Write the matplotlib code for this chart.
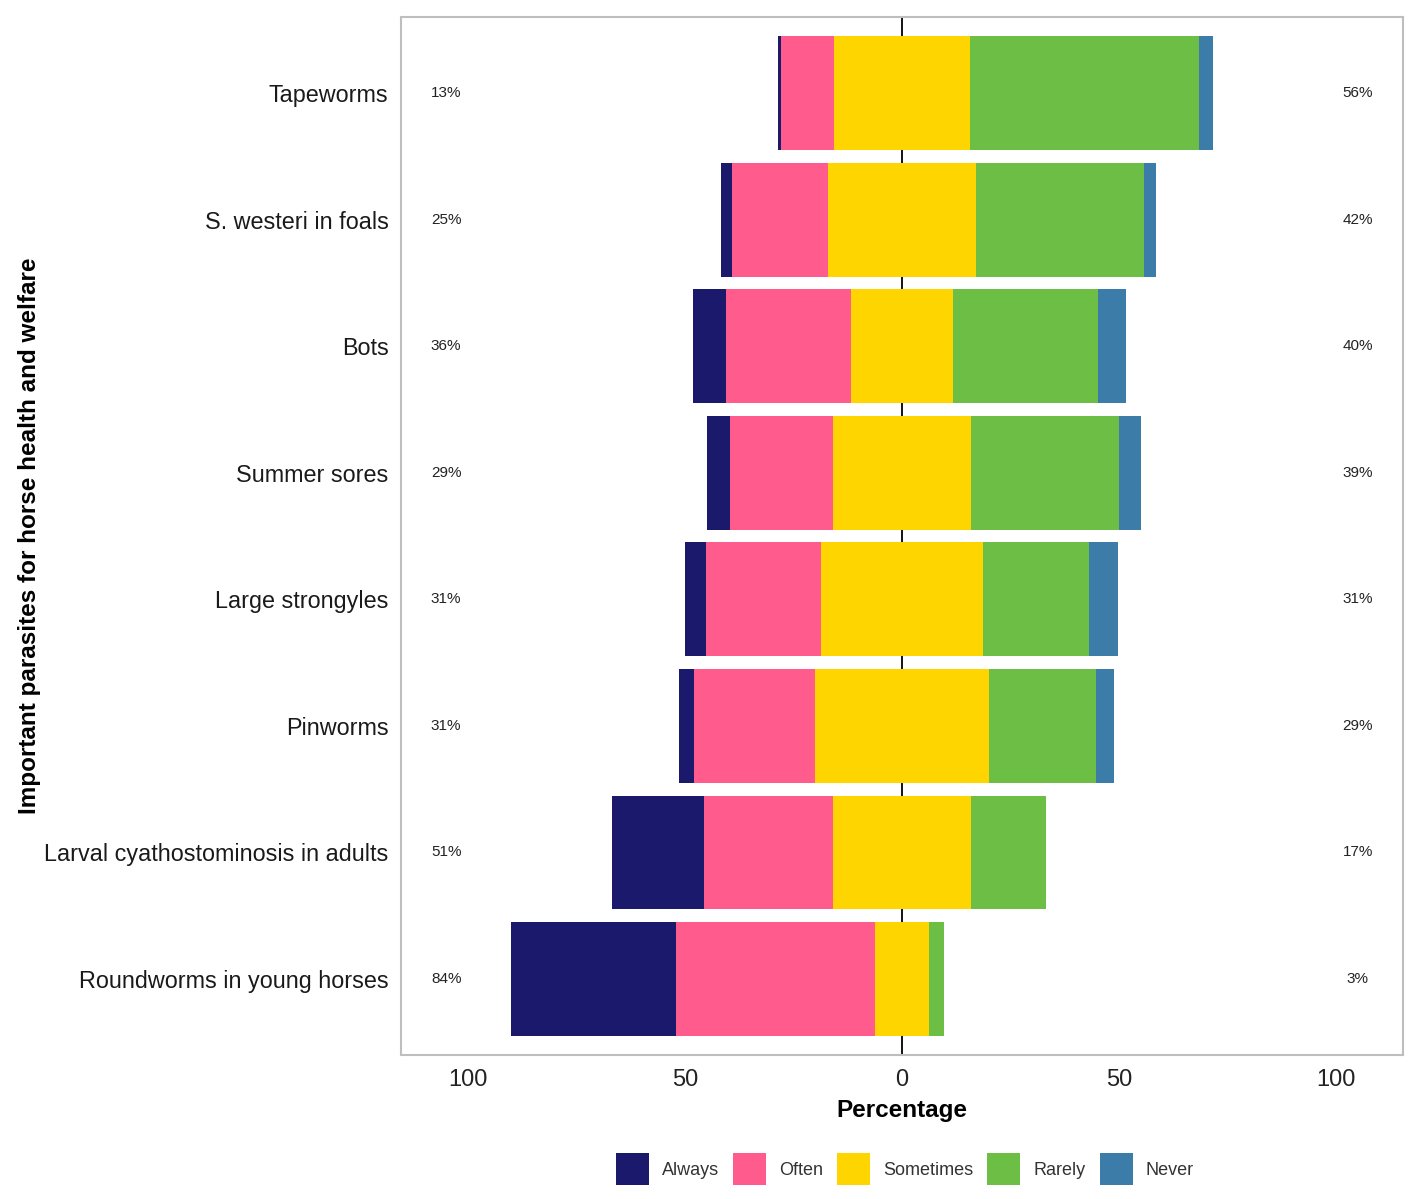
import matplotlib
matplotlib.use("Agg")
import matplotlib.pyplot as plt

plt.rcParams['font.family'] = ['Liberation Sans', 'DejaVu Sans']

# Parasites, listed top to bottom as in the chart
parasites = ["Tapeworms", "S. westeri in foals", "Bots", "Summer sores",
             "Large strongyles", "Pinworms", "Larval cyathostominosis in adults",
             "Roundworms in young horses"]

# Percent of respondents per answer
always = [0.6, 2.5, 7.8, 5.3, 4.8, 3.5, 21.2, 38.0]
often = [12.2, 22.3, 28.6, 23.7, 26.5, 27.9, 29.7, 45.7]
sometimes = [31.3, 33.9, 23.7, 32.0, 37.3, 39.9, 32.0, 12.5]
rarely = [52.7, 38.7, 33.2, 33.9, 24.4, 24.7, 17.1, 3.5]
never = [3.2, 2.8, 6.5, 5.1, 6.7, 4.1, 0.0, 0.0]

# Summary labels printed at both sides
low_pct = [13, 25, 36, 29, 31, 31, 51, 84]
high_pct = [56, 42, 40, 39, 31, 29, 17, 3]

answers = ["Always", "Often", "Sometimes", "Rarely", "Never"]
colors = ["#1B196B", "#FF5C8D", "#FFD500", "#6CBE45", "#3B7CA8"]

n = len(parasites)
ypos = [n - i for i in range(n)]

fig = plt.figure(figsize=(14.18, 11.99), dpi=100)
ax = fig.add_axes([0.2828, 0.1201, 0.7066, 0.8657])

# Zero line sits behind the bars
ax.axvline(0, color="black", lw=1.3, zorder=1)

# Neutral answer is split evenly around zero
half = [s / 2 for s in sometimes]
left_often = [-h - o for h, o in zip(half, often)]
left_always = [lo - a for lo, a in zip(left_often, always)]
right_rarely = half
right_never = [h + r for h, r in zip(half, rarely)]

h = 0.9
bars = []
bars.append(ax.barh(ypos, always, left=left_always, height=h, color=colors[0], label=answers[0], zorder=2))
bars.append(ax.barh(ypos, often, left=left_often, height=h, color=colors[1], label=answers[1], zorder=2))
bars.append(ax.barh(ypos, sometimes, left=[-v for v in half], height=h, color=colors[2], label=answers[2], zorder=2))
bars.append(ax.barh(ypos, rarely, left=right_rarely, height=h, color=colors[3], label=answers[3], zorder=2))
bars.append(ax.barh(ypos, never, left=right_never, height=h, color=colors[4], label=answers[4], zorder=2))

# Side percentages
for y, lo, hi in zip(ypos, low_pct, high_pct):
    ax.text(-105, y, f"{lo}%", ha="center", va="center", fontsize=11, color="#222222")
    ax.text(105, y, f"{hi}%", ha="center", va="center", fontsize=11, color="#222222")

ax.set_xlim(-115.4, 115.4)
ax.set_ylim(0.4, n + 0.6)

xt = [-100, -50, 0, 50, 100]
ax.set_xticks(xt)
ax.set_xticklabels([str(abs(v)) for v in xt], fontsize=17, color="#222222")
ax.set_yticks(ypos)
ax.set_yticklabels(parasites, fontsize=16.8, color="#1A1A1A")
ax.tick_params(axis="x", length=0, pad=10)
ax.tick_params(axis="y", length=0, pad=9)

for s in ax.spines.values():
    s.set_color("#BEBEBE")
    s.set_linewidth(1.5)

ax.set_xlabel("Percentage", fontsize=17.5, fontweight="bold", labelpad=6)
fig.text(0.021, 0.553, "Important parasites for horse health and welfare",
         rotation=90, ha="center", va="center", fontsize=17.5, fontweight="bold")

fig.legend(handles=bars, loc="center", bbox_to_anchor=(0.638, 0.025), ncol=5,
           frameon=False, fontsize=13, handlelength=1.83, handleheight=2.3,
           handletextpad=0.72, columnspacing=0.78, labelcolor="#333333")

fig.savefig("out.png", dpi=100)
